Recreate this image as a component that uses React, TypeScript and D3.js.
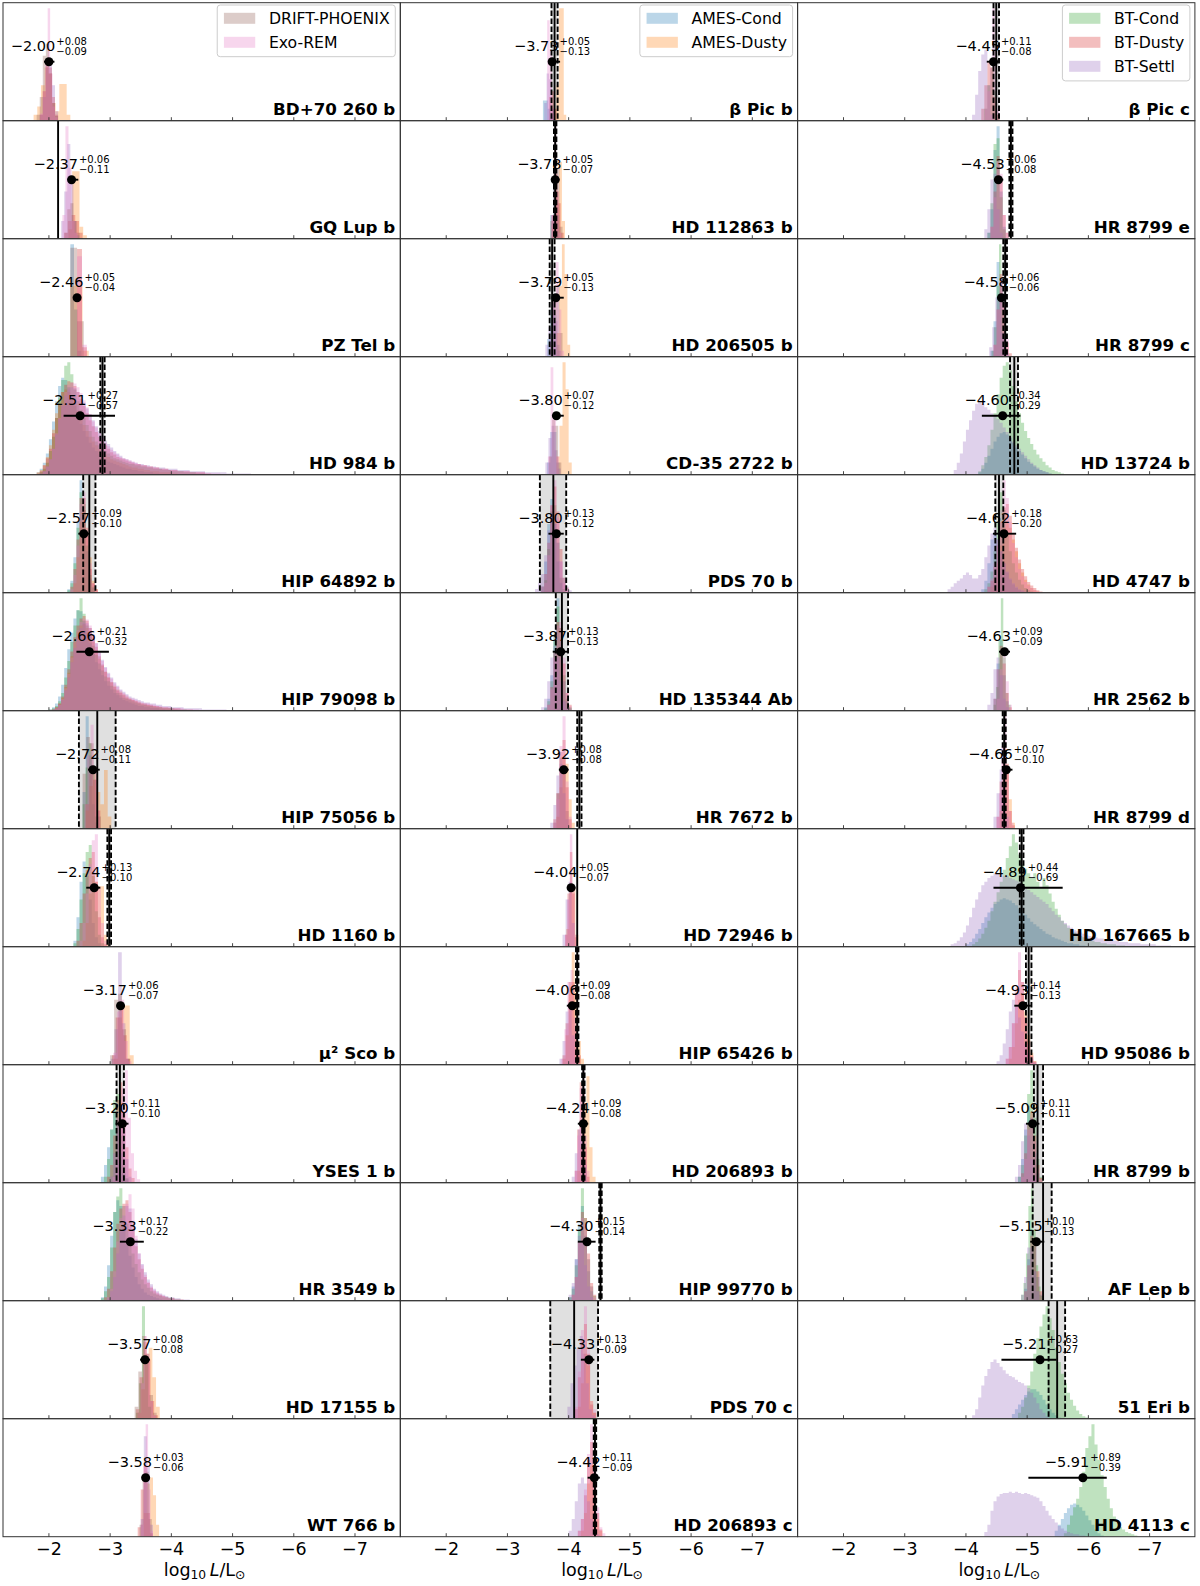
import React, { useEffect, useRef } from 'react';
import * as d3 from 'd3';

const models = ['AMES-Cond', 'AMES-Dusty', 'BT-Cond', 'BT-Dusty', 'BT-Settl', 'DRIFT-PHOENIX', 'Exo-REM'];
const modelColors = ['#1f77b4', '#ff7f0e', '#2ca02c', '#d62728', '#9467bd', '#8c564b', '#e377c2'];
// legend entries shown in the top panel of each column
const legendGroups = [[5, 6], [0, 1], [2, 3, 4]];

const ticks = [-2, -3, -4, -5, -6, -7];

// objects, column by column, top to bottom
const names = [
  'BD+70 260 b', 'GQ Lup b', 'PZ Tel b', 'HD 984 b', 'HIP 64892 b', 'HIP 79098 b', 'HIP 75056 b',
  'HD 1160 b', 'μ² Sco b', 'YSES 1 b', 'HR 3549 b', 'HD 17155 b', 'WT 766 b',
  'β Pic b', 'HD 112863 b', 'HD 206505 b', 'CD-35 2722 b', 'PDS 70 b', 'HD 135344 Ab', 'HR 7672 b',
  'HD 72946 b', 'HIP 65426 b', 'HD 206893 b', 'HIP 99770 b', 'PDS 70 c', 'HD 206893 c',
  'β Pic c', 'HR 8799 e', 'HR 8799 c', 'HD 13724 b', 'HD 4747 b', 'HR 2562 b', 'HR 8799 d',
  'HD 167665 b', 'HD 95086 b', 'HR 8799 b', 'AF Lep b', '51 Eri b', 'HD 4113 c',
];

const estimate = [
  -2.00, -2.37, -2.46, -2.51, -2.57, -2.66, -2.72, -2.74, -3.17, -3.20, -3.33, -3.57, -3.58,
  -3.73, -3.78, -3.79, -3.80, -3.80, -3.87, -3.92, -4.04, -4.06, -4.24, -4.30, -4.33, -4.42,
  -4.45, -4.53, -4.58, -4.60, -4.62, -4.63, -4.66, -4.89, -4.93, -5.09, -5.15, -5.21, -5.91,
];
const errPlus = [
  0.08, 0.06, 0.05, 0.27, 0.09, 0.21, 0.08, 0.13, 0.06, 0.11, 0.17, 0.08, 0.03,
  0.05, 0.05, 0.05, 0.07, 0.13, 0.13, 0.08, 0.05, 0.09, 0.09, 0.15, 0.13, 0.11,
  0.11, 0.06, 0.06, 0.34, 0.18, 0.09, 0.07, 0.44, 0.14, 0.11, 0.10, 0.63, 0.89,
];
const errMinus = [
  0.09, 0.11, 0.04, 0.57, 0.10, 0.32, 0.11, 0.10, 0.07, 0.10, 0.22, 0.08, 0.06,
  0.13, 0.07, 0.13, 0.12, 0.12, 0.13, 0.08, 0.07, 0.08, 0.08, 0.14, 0.09, 0.09,
  0.08, 0.08, 0.06, 0.29, 0.20, 0.09, 0.10, 0.69, 0.13, 0.11, 0.13, 0.27, 0.39,
];

// literature values: solid line, and dashed lines bounding a grey band
const litValue = [
  null, -2.15, null, -2.875, -2.66, null, -2.79, -2.985, null, -3.16, null, null, null,
  -3.77, -3.78, -3.73, null, -3.75, -3.89, -4.175, -4.14, -4.14, -4.24, -4.52, -4.09, -4.43,
  -4.495, -4.735, -4.64, -4.79, -4.54, null, -4.625, -4.91, -5.025, -5.17, -5.26, -5.49, null,
];
const litLow = [
  null, null, null, -2.84, -2.56, null, -2.49, -2.955, null, -3.105, null, null, null,
  -3.72, -3.76, -3.69, null, -3.53, -3.79, -4.14, null, -4.12, -4.22, -4.50, -3.70, -4.41,
  -4.45, -4.71, -4.61, -4.72, -4.48, null, -4.60, -4.88, -4.98, -5.11, -5.09, -5.35, null,
];
const litHigh = [
  null, null, null, -2.91, -2.76, null, -3.09, -3.015, null, -3.225, null, null, null,
  -3.82, -3.80, -3.77, null, -3.96, -3.99, -4.21, null, -4.16, -4.26, -4.54, -4.48, -4.45,
  -4.54, -4.76, -4.67, -4.85, -4.61, null, -4.65, -4.94, -5.07, -5.26, -5.40, -5.62, null,
];

// histograms per object: [model, first bin edge, bin width, counts]
type Hist = [number, number, number, number[]];
const hists: Hist[][] = [
  // BD+70 260 b
  [[1, -1.75, 0.06, [5, 12, 30, 45, 40, 15, 8, 31, 31, 5]], [3, -1.85, 0.05, [5, 25, 50, 45, 20, 5]],
    [4, -1.85, 0.05, [5, 20, 45, 50, 30, 8]], [5, -1.80, 0.05, [5, 20, 55, 65, 40, 15, 4]],
    [6, -1.86, 0.04, [6, 25, 50, 95, 40, 12, 3]]],
  // GQ Lup b
  [[1, -2.32, 0.06, [8, 57, 57, 10, 3]], [3, -2.25, 0.06, [5, 15, 20, 15, 5]],
    [4, -2.20, 0.05, [15, 40, 80, 50, 15, 3]], [5, -2.25, 0.05, [5, 25, 30, 15, 5]],
    [6, -2.22, 0.05, [20, 95, 60, 15, 5]]],
  // PZ Tel b
  [[0, -2.35, 0.06, [95, 40, 5]], [1, -2.35, 0.1, [60, 60, 5]], [3, -2.46, 0.08, [91, 8]],
    [5, -2.35, 0.11, [92, 30]], [6, -2.46, 0.08, [85, 10]]],
  // HD 984 b
  [[0, -1.80, 0.05, [2, 5, 10, 18, 30, 45, 62, 75, 82, 80, 74, 66, 58, 50, 43, 37, 32, 27, 23, 20, 17, 15, 13, 11, 10, 9, 8, 7, 6, 5, 5, 4, 4, 3, 3, 2, 2, 2, 1, 1]],
    [1, -1.80, 0.05, [2, 4, 8, 15, 25, 38, 52, 63, 70, 72, 70, 66, 60, 54, 48, 42, 37, 32, 28, 25, 22, 19, 17, 15, 13, 12, 11, 10, 9, 8, 7, 6, 6, 5, 5, 4, 4, 3, 3, 3, 2, 2, 2, 2, 1, 1]],
    [2, -1.85, 0.05, [2, 5, 10, 20, 32, 48, 65, 80, 92, 95, 85, 72, 62, 55, 48, 42, 37, 32, 28, 25, 22, 20, 18, 16, 14, 13, 12, 11, 10, 9, 9, 8, 8, 7, 7, 6, 6, 5, 5, 5, 4, 4, 4, 3, 3, 3, 3, 2, 2, 2, 2, 1, 1, 1]],
    [3, -1.80, 0.05, [1, 3, 8, 14, 22, 35, 48, 60, 70, 76, 79, 78, 75, 70, 64, 58, 52, 46, 41, 36, 32, 28, 25, 22, 19, 17, 15, 14, 13, 12, 11, 10, 9, 9, 8, 8, 7, 7, 6, 6, 5, 5, 5, 4, 4, 4, 3, 3, 3, 3, 2, 2, 2, 2, 2, 1, 1]],
    [4, -1.85, 0.05, [1, 3, 7, 13, 22, 34, 47, 58, 67, 72, 74, 73, 70, 66, 61, 56, 51, 46, 41, 37, 33, 29, 26, 23, 20, 18, 16, 14, 13, 12, 11, 10, 9, 9, 8, 8, 7, 7, 6, 6, 6, 5, 5, 5, 5, 4, 4, 4, 4, 3, 3, 3, 3, 3, 2, 2, 2, 2, 2, 2, 2, 1, 1, 1, 1, 1, 1, 1, 1]],
    [6, -1.85, 0.05, [1, 3, 7, 13, 22, 35, 48, 60, 70, 76, 78, 77, 74, 69, 63, 57, 51, 45, 40, 35, 31, 27, 24, 21, 19, 17, 15, 14, 13, 12, 11, 10, 9, 8, 8, 7, 7, 6, 6, 5, 5, 5, 4, 4, 4, 3, 3, 3, 3, 2, 2, 2, 2, 2, 1, 1, 1, 1, 1]]],
  // HIP 64892 b
  [[0, -2.30, 0.05, [3, 10, 30, 60, 95, 70, 35, 12, 4]], [1, -2.40, 0.05, [8, 30, 60, 70, 55, 30, 10, 3]],
    [2, -2.30, 0.05, [2, 8, 25, 55, 85, 75, 40, 15, 5]], [3, -2.35, 0.05, [5, 20, 45, 80, 80, 50, 20, 8, 3]],
    [6, -2.35, 0.05, [3, 15, 40, 75, 85, 55, 25, 8, 2]]],
  // HIP 79098 b
  [[0, -2.00, 0.05, [1, 3, 6, 12, 22, 36, 52, 66, 78, 85, 84, 76, 66, 57, 48, 41, 35, 30, 25, 21, 18, 15, 13, 11, 9, 8, 7, 6, 5, 4, 4, 3, 3, 2, 2, 2, 1, 1]],
    [1, -2.05, 0.05, [1, 3, 6, 11, 20, 32, 46, 58, 67, 72, 73, 70, 65, 58, 51, 44, 38, 33, 28, 24, 21, 18, 16, 14, 12, 10, 9, 8, 7, 6, 5, 5, 4, 4, 3, 3, 2, 2, 2, 1, 1]],
    [2, -2.00, 0.05, [1, 2, 4, 8, 15, 28, 42, 58, 72, 85, 95, 82, 72, 63, 55, 47, 40, 34, 29, 25, 21, 18, 15, 13, 11, 10, 9, 8, 7, 6, 5, 5, 4, 4, 3, 3, 3, 2, 2, 2, 2, 1, 1, 1, 1]],
    [3, -2.05, 0.05, [1, 3, 6, 12, 22, 35, 50, 62, 72, 78, 80, 76, 70, 62, 54, 46, 39, 33, 28, 24, 20, 17, 15, 13, 11, 10, 9, 8, 7, 6, 6, 5, 5, 4, 4, 3, 3, 3, 2, 2, 2, 2, 1, 1, 1, 1]],
    [4, -2.05, 0.05, [1, 2, 5, 9, 17, 28, 41, 53, 63, 70, 74, 74, 70, 64, 57, 50, 43, 37, 32, 28, 24, 21, 18, 16, 14, 12, 11, 10, 9, 8, 7, 7, 6, 6, 5, 5, 4, 4, 4, 3, 3, 3, 3, 2, 2, 2, 2, 2, 2, 1, 1, 1, 1, 1, 1, 1, 1]],
    [6, -2.05, 0.05, [1, 2, 5, 10, 19, 31, 45, 58, 68, 75, 78, 77, 72, 65, 57, 49, 42, 36, 31, 27, 23, 20, 17, 15, 13, 11, 10, 9, 8, 7, 6, 6, 5, 5, 4, 4, 3, 3, 3, 2, 2, 2, 2, 1, 1, 1, 1, 1]]],
  // HIP 75056 b
  [[0, -2.55, 0.05, [30, 92, 60, 20, 5]], [1, -2.60, 0.06, [15, 35, 45, 30, 20, 48, 10]],
    [2, -2.55, 0.05, [20, 50, 70, 45, 10]], [3, -2.60, 0.06, [20, 45, 40, 15]],
    [5, -2.55, 0.06, [45, 75, 70, 40, 10]], [6, -2.58, 0.05, [20, 60, 85, 50, 15]]],
  // HD 1160 b
  [[0, -2.40, 0.05, [5, 25, 55, 72, 60, 40, 20, 8, 3]], [1, -2.55, 0.05, [5, 20, 45, 60, 55, 51, 51, 10, 3]],
    [2, -2.40, 0.05, [3, 15, 40, 62, 80, 86, 60, 30, 10, 3]], [3, -2.45, 0.05, [5, 20, 45, 65, 75, 80, 55, 25, 8, 2]],
    [6, -2.50, 0.05, [5, 20, 45, 70, 90, 95, 50, 20, 5]]],
  // mu2 Sco b
  [[1, -3.06, 0.065, [5, 40, 50, 50, 8]], [3, -3.03, 0.06, [8, 40, 50, 25, 5]],
    [4, -3.01, 0.06, [5, 30, 95, 35, 5]], [5, -3.00, 0.065, [8, 55, 60, 30, 5]],
    [6, -3.05, 0.06, [10, 45, 55, 20, 3]]],
  // YSES 1 b
  [[0, -2.85, 0.05, [5, 15, 30, 45, 60, 50, 25, 8, 3]], [2, -2.90, 0.05, [5, 20, 45, 70, 75, 40, 15, 4]],
    [3, -2.95, 0.05, [5, 15, 40, 70, 85, 60, 30, 12, 4]], [4, -3.00, 0.05, [5, 25, 55, 65, 45, 20, 5]],
    [6, -3.04, 0.05, [5, 20, 50, 80, 95, 55, 25, 10, 3]]],
  // HR 3549 b
  [[0, -2.85, 0.05, [3, 12, 30, 55, 75, 85, 80, 65, 50, 38, 28, 20, 14, 10, 7, 5, 4, 3, 2, 1]],
    [2, -2.85, 0.05, [2, 8, 20, 45, 75, 88, 95, 80, 65, 52, 40, 31, 24, 18, 14, 11, 8, 6, 5, 4, 3, 3, 2, 2, 1, 1]],
    [3, -2.90, 0.05, [3, 10, 25, 45, 65, 78, 82, 85, 75, 60, 46, 35, 27, 20, 15, 11, 8, 6, 5, 4, 3, 2, 2, 1, 1, 1]],
    [4, -2.95, 0.05, [2, 8, 20, 40, 60, 72, 80, 78, 66, 52, 40, 31, 24, 18, 14, 10, 8, 6, 5, 4, 3, 3, 2, 2, 1, 1, 1]],
    [6, -2.95, 0.05, [3, 10, 25, 50, 70, 80, 82, 90, 78, 55, 40, 30, 22, 16, 12, 9, 7, 5, 4, 3, 2, 2, 1, 1]]],
  // HD 17155 b
  [[1, -3.45, 0.06, [5, 25, 55, 60, 35, 10]], [2, -3.42, 0.05, [5, 30, 95, 50, 10]],
    [3, -3.42, 0.06, [8, 35, 65, 50, 15, 3]], [5, -3.40, 0.06, [10, 40, 70, 55, 20, 5]],
    [6, -3.45, 0.05, [5, 30, 70, 55, 15, 3]]],
  // WT 766 b
  [[1, -3.55, 0.05, [20, 45, 50, 35, 10]], [3, -3.45, 0.05, [8, 40, 60, 20, 3]],
    [4, -3.50, 0.05, [15, 85, 60, 10]], [5, -3.48, 0.05, [10, 50, 55, 15]],
    [6, -3.50, 0.04, [10, 60, 95, 40, 5]]],
  // beta Pic b
  [[0, -3.58, 0.04, [17, 17, 10, 5]], [1, -3.76, 0.04, [10, 30, 95, 95, 5]],
    [3, -3.68, 0.04, [20, 25, 10]], [4, -3.60, 0.04, [15, 40, 35, 10]],
    [6, -3.65, 0.04, [85, 60, 10]]],
  // HD 112863 b
  [[0, -3.70, 0.05, [20, 50, 20]], [1, -3.74, 0.05, [10, 40, 65, 15]],
    [3, -3.72, 0.05, [20, 55, 30, 5]], [5, -3.70, 0.05, [15, 70, 60, 10]],
    [6, -3.72, 0.04, [20, 95, 40, 5]]],
  // HD 206505 b
  [[0, -3.65, 0.05, [15, 40, 35, 10]], [1, -3.80, 0.045, [20, 60, 95, 70, 10]],
    [4, -3.62, 0.05, [10, 25, 45, 30, 5]], [5, -3.70, 0.05, [10, 50, 60, 20]],
    [6, -3.70, 0.045, [15, 50, 80, 40, 5]]],
  // CD-35 2722 b
  [[0, -3.65, 0.05, [10, 35, 35, 10]], [1, -3.80, 0.05, [15, 40, 92, 70, 10]],
    [4, -3.62, 0.05, [10, 30, 40, 20, 5]], [5, -3.68, 0.05, [15, 45, 40, 10]],
    [6, -3.66, 0.045, [15, 88, 50, 15]]],
  // PDS 70 b
  [[0, -3.55, 0.05, [5, 25, 55, 75, 55, 25, 8]], [2, -3.60, 0.05, [10, 35, 65, 70, 40, 12, 3]],
    [3, -3.55, 0.05, [5, 15, 40, 70, 85, 65, 35, 12, 4]], [4, -3.45, 0.05, [3, 8, 15, 30, 50, 60, 55, 40, 25, 12, 5, 2]],
    [6, -3.60, 0.05, [8, 30, 70, 90, 60, 25, 8, 2]]],
  // HD 135344 Ab
  [[0, -3.60, 0.05, [3, 10, 30, 65, 95, 60, 25, 8, 2]], [2, -3.60, 0.05, [2, 8, 25, 60, 88, 70, 30, 10, 3]],
    [3, -3.65, 0.05, [5, 20, 50, 75, 70, 40, 15, 5]], [4, -3.55, 0.05, [3, 10, 25, 45, 55, 45, 25, 8, 2]],
    [6, -3.65, 0.05, [5, 18, 45, 72, 75, 45, 15, 4]]],
  // HR 7672 b
  [[1, -3.80, 0.05, [10, 35, 60, 55, 25, 5]], [3, -3.75, 0.05, [8, 30, 65, 75, 35, 8]],
    [4, -3.70, 0.05, [5, 20, 45, 55, 30, 8]], [5, -3.75, 0.05, [5, 30, 60, 50, 15]],
    [6, -3.75, 0.05, [5, 25, 70, 95, 40, 10]]],
  // HD 72946 b
  [[1, -3.96, 0.05, [15, 50, 50, 10]], [3, -3.94, 0.04, [10, 45, 80, 45, 8]],
    [4, -3.90, 0.05, [10, 40, 55, 20]], [6, -3.94, 0.04, [10, 40, 95, 50, 10]]],
  // HIP 65426 b
  [[1, -3.90, 0.05, [5, 25, 60, 95, 60, 20, 5]], [3, -3.90, 0.05, [8, 35, 70, 70, 30, 8]],
    [4, -3.85, 0.05, [5, 20, 45, 50, 25, 5]], [6, -3.88, 0.05, [5, 30, 70, 80, 40, 10]]],
  // HD 206893 b
  [[1, -4.14, 0.05, [10, 30, 60, 90, 30, 5]], [3, -4.10, 0.04, [10, 45, 85, 75, 30, 5]],
    [4, -4.05, 0.05, [5, 25, 45, 40, 15]], [6, -4.10, 0.04, [10, 40, 80, 95, 40, 10]]],
  // HIP 99770 b
  [[0, -4.00, 0.05, [3, 12, 35, 65, 80, 55, 25, 8]], [2, -4.00, 0.05, [3, 10, 30, 60, 95, 70, 35, 12, 4]],
    [3, -4.05, 0.05, [5, 20, 50, 75, 70, 40, 15, 5]], [4, -4.00, 0.05, [5, 15, 35, 55, 50, 30, 12, 3]],
    [6, -4.05, 0.05, [5, 20, 50, 70, 65, 35, 12, 3]]],
  // PDS 70 c
  [[1, -4.15, 0.05, [10, 30, 55, 45, 15, 5]], [3, -4.10, 0.05, [8, 35, 65, 80, 55, 12, 5]],
    [4, -3.98, 0.05, [10, 30, 45, 60, 70, 55, 30, 8, 3]], [6, -4.10, 0.05, [10, 40, 75, 95, 60, 15, 8]]],
  // HD 206893 c
  [[1, -4.20, 0.05, [5, 20, 45, 60, 40, 15, 5]], [3, -4.15, 0.05, [5, 15, 35, 65, 80, 55, 20, 6]],
    [4, -4.00, 0.05, [5, 15, 30, 45, 50, 45, 30, 15, 5, 2]], [6, -4.15, 0.05, [5, 15, 40, 70, 95, 60, 25, 8, 3]]],
  // beta Pic c
  [[2, -4.30, 0.05, [10, 30, 45, 25, 5]], [3, -4.25, 0.05, [10, 30, 50, 45, 20, 5]],
    [4, -4.10, 0.05, [5, 22, 42, 56, 60, 30, 5]], [6, -4.31, 0.04, [10, 25, 45, 95, 60, 10]]],
  // HR 8799 e
  [[0, -4.35, 0.05, [5, 25, 75, 95, 40, 10]], [2, -4.35, 0.05, [5, 30, 80, 85, 35, 8]],
    [3, -4.40, 0.05, [10, 40, 70, 50, 20, 5]], [4, -4.30, 0.05, [8, 25, 50, 55, 25, 5]],
    [6, -4.40, 0.05, [10, 35, 65, 55, 20, 5]]],
  // HR 8799 c
  [[0, -4.40, 0.05, [5, 30, 80, 60, 15, 3]], [2, -4.42, 0.04, [5, 25, 60, 95, 40, 10]],
    [3, -4.45, 0.05, [10, 40, 70, 45, 12, 3]], [4, -4.38, 0.05, [8, 25, 50, 50, 20, 5]],
    [6, -4.45, 0.05, [10, 40, 65, 45, 15]]],
  // HD 13724 b
  [[0, -4.20, 0.05, [2, 5, 10, 16, 22, 28, 32, 35, 36, 34, 31, 27, 23, 20, 17, 14, 11, 9, 7, 5, 4, 3, 2, 1]],
    [2, -4.20, 0.05, [3, 8, 15, 25, 38, 52, 68, 82, 92, 95, 88, 75, 62, 52, 44, 37, 31, 26, 21, 17, 14, 11, 8, 6, 4, 3, 2, 1]],
    [4, -3.80, 0.05, [4, 10, 18, 28, 38, 46, 54, 60, 62, 60, 57, 55, 52, 50, 47, 44, 40, 36, 32, 28, 25, 22, 19, 16, 13, 10, 8, 6, 4, 3, 2, 1]]],
  // HD 4747 b
  [[0, -4.25, 0.05, [3, 10, 25, 45, 50, 45, 35, 25, 17, 11, 7, 4, 2, 1]],
    [1, -4.40, 0.05, [5, 12, 25, 40, 55, 60, 55, 45, 35, 25, 17, 11, 7, 4, 2, 1]],
    [2, -4.30, 0.05, [3, 8, 18, 35, 60, 85, 70, 50, 35, 25, 17, 11, 7, 4, 2, 1]],
    [3, -4.35, 0.05, [5, 10, 22, 40, 60, 72, 75, 65, 50, 38, 28, 20, 14, 9, 6, 4, 2, 1]],
    [4, -3.70, 0.05, [3, 5, 8, 10, 12, 15, 17, 15, 12, 12, 15, 20, 30, 40, 50, 55, 45, 35, 25, 18, 12, 8, 5, 3, 2, 1]],
    [6, -4.35, 0.05, [5, 12, 25, 45, 70, 95, 80, 60, 42, 30, 20, 14, 9, 6, 4, 2, 1]]],
  // HR 2562 b
  [[0, -4.45, 0.05, [10, 40, 60, 30, 8]], [2, -4.45, 0.04, [5, 20, 60, 95, 45, 15, 5]],
    [3, -4.45, 0.05, [10, 35, 55, 40, 15, 3]], [4, -4.35, 0.05, [5, 15, 35, 45, 30, 10, 3]],
    [6, -4.50, 0.05, [10, 35, 50, 25, 5]]],
  // HR 8799 d
  [[1, -4.55, 0.05, [15, 45, 55, 25, 5]], [3, -4.50, 0.05, [10, 40, 70, 50, 15, 3]],
    [4, -4.45, 0.05, [10, 30, 50, 35, 10]], [6, -4.50, 0.04, [10, 30, 70, 95, 55, 15, 5]]],
  // HD 167665 b
  [[0, -4.00, 0.05, [2, 4, 7, 11, 15, 20, 25, 29, 33, 36, 38, 40, 41, 40, 39, 37, 35, 32, 30, 27, 24, 21, 19, 17, 15, 13, 11, 10, 8, 7, 6, 5, 4, 3, 3, 2, 2, 1, 1]],
    [2, -4.10, 0.05, [2, 4, 7, 11, 16, 22, 30, 38, 46, 55, 65, 75, 85, 95, 88, 78, 70, 66, 62, 58, 62, 55, 50, 58, 52, 45, 38, 32, 27, 22, 19, 16, 14, 12, 10, 9, 8, 7, 6, 5, 4, 4, 3, 3, 2, 2, 2, 1, 1, 1]],
    [4, -3.75, 0.05, [2, 3, 5, 8, 12, 18, 25, 33, 40, 46, 52, 55, 58, 60, 62, 62, 61, 60, 60, 58, 57, 56, 55, 53, 50, 48, 46, 44, 42, 40, 38, 36, 33, 30, 27, 25, 22, 20, 18, 16, 14, 13, 12, 11, 10, 9, 8, 8, 7, 7, 6, 6, 5, 5, 5, 4, 4, 4, 3, 3, 3, 3, 2, 2, 2, 2, 2, 1, 1, 1, 1, 1]]],
  // HD 95086 b
  [[1, -4.70, 0.05, [5, 15, 35, 55, 60, 45, 25, 10, 3]], [3, -4.65, 0.05, [5, 15, 35, 60, 80, 70, 40, 20, 8, 3]],
    [4, -4.50, 0.05, [3, 8, 18, 30, 45, 55, 50, 40, 28, 18, 10, 5, 2]], [6, -4.65, 0.05, [5, 15, 35, 65, 95, 70, 40, 18, 7, 2]]],
  // HR 8799 b
  [[0, -4.85, 0.05, [5, 20, 45, 65, 55, 25, 8]], [2, -4.85, 0.05, [5, 15, 40, 75, 95, 55, 20, 5]],
    [3, -4.90, 0.05, [8, 25, 50, 60, 40, 15, 4]], [4, -4.80, 0.05, [5, 15, 35, 50, 40, 20, 5]],
    [6, -4.90, 0.05, [5, 20, 45, 55, 35, 12, 3]]],
  // AF Lep b
  [[0, -4.95, 0.05, [10, 35, 60, 50, 20, 5]], [2, -4.90, 0.04, [5, 15, 40, 80, 95, 60, 30, 12, 4]],
    [3, -4.95, 0.05, [8, 30, 55, 50, 25, 8]], [4, -4.90, 0.05, [5, 20, 45, 45, 25, 8]]],
  // 51 Eri b
  [[0, -4.75, 0.05, [4, 8, 12, 16, 20, 23, 25, 25, 23, 20, 16, 12, 8, 5, 3, 1]],
    [2, -4.85, 0.05, [5, 10, 18, 28, 40, 55, 68, 78, 88, 95, 85, 75, 60, 48, 38, 30, 22, 16, 11, 7, 4, 2, 1]],
    [4, -4.10, 0.05, [3, 8, 18, 28, 36, 42, 48, 50, 47, 44, 41, 38, 36, 35, 33, 31, 30, 28, 26, 22, 18, 13, 8, 5, 2]]],
  // HD 4113 c
  [[0, -5.45, 0.05, [5, 10, 15, 20, 24, 27, 28, 27, 25, 22, 18, 14, 10, 6, 3, 1]],
    [2, -5.60, 0.05, [3, 10, 18, 25, 32, 42, 55, 75, 85, 95, 78, 65, 52, 42, 32, 24, 17, 12, 8, 6, 4, 3, 2, 1]],
    [4, -4.30, 0.05, [4, 10, 22, 30, 34, 36, 37, 37, 38, 37, 38, 37, 36, 37, 36, 35, 34, 33, 30, 26, 22, 18, 15, 12, 9, 7, 5, 4, 3, 2, 2, 1, 1]]],
];

const W = 1200;
const H = 1586;
const left = 3;
const top = 2.7;
const colW = 397.3;
const rowH = 118;
const nRows = 13;
const font = 'DejaVu Sans, sans-serif';

const fmt = (v: number) => (v < 0 ? '\u2212' : '') + Math.abs(v).toFixed(2);

export default function App() {
  const ref = useRef<SVGSVGElement>(null);

  useEffect(() => {
    const svg = d3.select(ref.current);
    svg.selectAll('*').remove();
    svg.append('rect').attr('width', W).attr('height', H).attr('fill', 'white');

    const x = d3.scaleLinear().domain([-1.25, -7.74]).range([0, colW]);

    names.forEach((name, i) => {
      const c = Math.floor(i / nRows);
      const r = i % nRows;
      const g = svg.append('g').attr('transform', `translate(${left + c * colW},${top + r * rowH})`);
      const panel = hists[i];
      const ymax = (d3.max(panel, h => d3.max(h[3])) as number) * 1.05;
      const y = d3.scaleLinear().domain([0, ymax]).range([rowH, 0]);

      const clipId = `clip${i}`;
      g.append('clipPath').attr('id', clipId).append('rect').attr('width', colW).attr('height', rowH);
      const plot = g.append('g').attr('clip-path', `url(#${clipId})`);

      if (litLow[i] != null) {
        plot.append('rect')
          .attr('x', x(litLow[i] as number))
          .attr('width', x(litHigh[i] as number) - x(litLow[i] as number))
          .attr('height', rowH)
          .attr('fill', '#d3d3d3')
          .attr('fill-opacity', 0.7);
      }

      const area = d3.area<[number, number]>()
        .x(d => x(d[0]))
        .y0(rowH)
        .y1(d => y(d[1]))
        .curve(d3.curveStepAfter);

      panel.slice().sort((a, b) => a[0] - b[0]).forEach(([m, x0, w, counts]) => {
        const pts: [number, number][] = counts.map((v, k) => [x0 - k * w, v]);
        pts.push([x0 - counts.length * w, counts[counts.length - 1]]);
        plot.append('path').attr('d', area(pts)).attr('fill', modelColors[m]).attr('fill-opacity', 0.3);
      });

      if (litValue[i] != null) {
        plot.append('line')
          .attr('x1', x(litValue[i] as number)).attr('x2', x(litValue[i] as number))
          .attr('y1', 0).attr('y2', rowH)
          .attr('stroke', 'black').attr('stroke-width', 1.9);
      }
      [litLow[i], litHigh[i]].forEach(v => {
        if (v == null) return;
        plot.append('line')
          .attr('x1', x(v)).attr('x2', x(v))
          .attr('y1', 0).attr('y2', rowH)
          .attr('stroke', 'black').attr('stroke-width', 1.9)
          .attr('stroke-dasharray', '5.5,2.4');
      });

      // estimate with asymmetric error
      const py = rowH / 2;
      const px = x(estimate[i]);
      g.append('line')
        .attr('x1', x(estimate[i] + errPlus[i])).attr('x2', x(estimate[i] - errMinus[i]))
        .attr('y1', py).attr('y2', py)
        .attr('stroke', 'black').attr('stroke-width', 1.9);
      g.append('circle').attr('cx', px).attr('cy', py).attr('r', 4.5).attr('fill', 'black');

      const lab = g.append('g');
      const main = lab.append('text').attr('font-family', font).attr('font-size', 14.5).attr('y', 48).text(fmt(estimate[i]));
      const sup = lab.append('text').attr('font-family', font).attr('font-size', 10).attr('y', 42.3).text('+' + errPlus[i].toFixed(2));
      const sub = lab.append('text').attr('font-family', font).attr('font-size', 10).attr('y', 52.5).text('\u2212' + errMinus[i].toFixed(2));
      const mw = (main.node() as SVGTextElement).getComputedTextLength();
      const sw = Math.max((sup.node() as SVGTextElement).getComputedTextLength(), (sub.node() as SVGTextElement).getComputedTextLength());
      const x0 = px - (mw + 1 + sw) / 2;
      main.attr('x', x0);
      sup.attr('x', x0 + mw + 1);
      sub.attr('x', x0 + mw + 1);

      g.append('text')
        .attr('x', colW - 5).attr('y', rowH - 5.5)
        .attr('text-anchor', 'end')
        .attr('font-family', font).attr('font-weight', 'bold').attr('font-size', 16.7)
        .text(name);

      // inward ticks on the bottom edge
      ticks.forEach(t => {
        g.append('line')
          .attr('x1', x(t)).attr('x2', x(t))
          .attr('y1', rowH).attr('y2', rowH - 3.5)
          .attr('stroke', '#333').attr('stroke-width', 0.9);
      });

      if (r === nRows - 1) {
        ticks.forEach(t => {
          g.append('text')
            .attr('x', x(t)).attr('y', rowH + 18.8)
            .attr('text-anchor', 'middle')
            .attr('font-family', font).attr('font-size', 17.5)
            .text('\u2212' + Math.abs(t));
        });
        const xl = g.append('text')
          .attr('x', colW / 2 + 3).attr('y', rowH + 39)
          .attr('text-anchor', 'middle')
          .attr('font-family', font).attr('font-size', 17.5);
        xl.append('tspan').text('log');
        xl.append('tspan').attr('font-size', 12.3).attr('dy', 3).text('10');
        xl.append('tspan').attr('dy', -3).attr('font-style', 'italic').text('\u2009L');
        xl.append('tspan').text('/L');
        xl.append('tspan').attr('font-size', 12.3).attr('dy', 3).text('\u2299');
      }

      if (r === 0) {
        const entries = legendGroups[c];
        const lg = g.append('g');
        const box = lg.append('rect');
        const texts = entries.map((m, k) => lg.append('text')
          .attr('font-family', font).attr('font-size', 15.7)
          .attr('y', 15.6 + k * 24).attr('dy', '0.36em')
          .text(models[m]));
        const tw = d3.max(texts, t => (t.node() as SVGTextElement).getComputedTextLength()) as number;
        const bw = tw + 57.3;
        const bx = colW - 5 - bw;
        box.attr('x', bx).attr('y', 2.3).attr('width', bw).attr('height', 24.2 * entries.length + 3.3)
          .attr('rx', 3).attr('fill', 'white').attr('fill-opacity', 0.8)
          .attr('stroke', '#cccccc').attr('stroke-width', 1);
        texts.forEach(t => t.attr('x', bx + 51.7));
        entries.forEach((m, k) => {
          lg.append('rect')
            .attr('x', bx + 6.7).attr('y', 15.6 + k * 24 - 5.5)
            .attr('width', 31.3).attr('height', 11)
            .attr('fill', modelColors[m]).attr('fill-opacity', 0.3);
        });
      }

      g.append('rect')
        .attr('width', colW).attr('height', rowH)
        .attr('fill', 'none').attr('stroke', '#333').attr('stroke-width', 1);
    });
  }, []);

  return <svg ref={ref} width={W} height={H} style={{ position: 'absolute', left: 0, top: 0 }} />;
}
